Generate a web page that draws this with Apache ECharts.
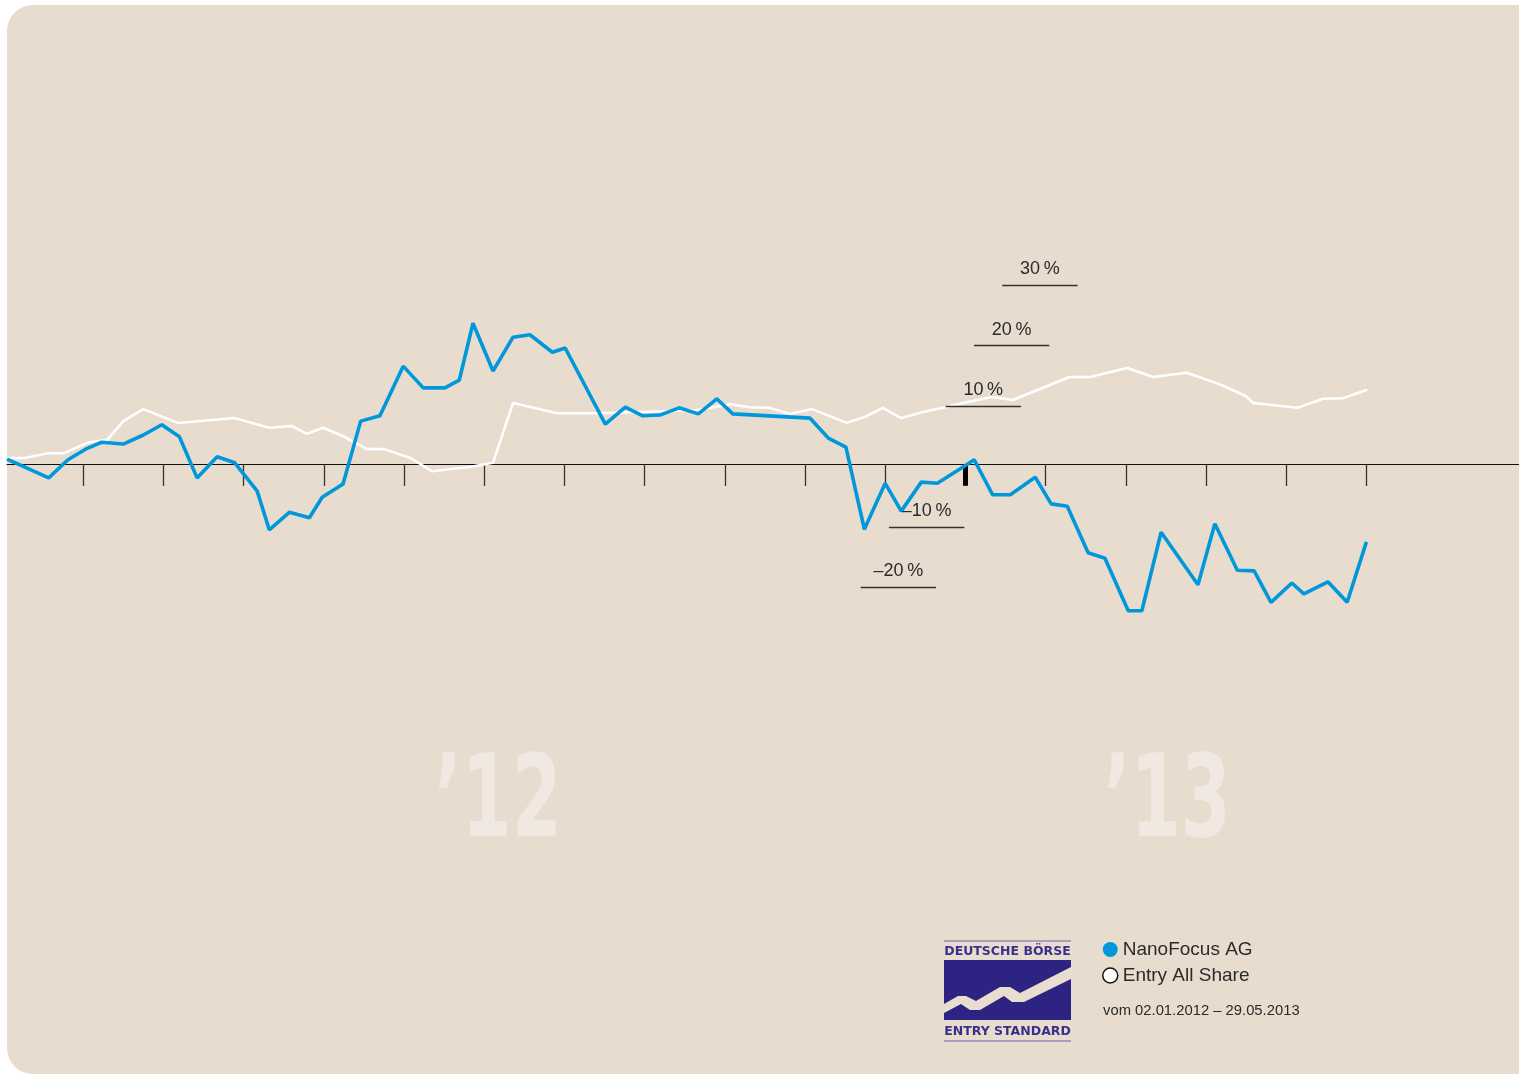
<!DOCTYPE html>
<html>
<head>
<meta charset="utf-8">
<script src="https://cdn.jsdelivr.net/npm/echarts@6/dist/echarts.min.js"></script>
<style>
  html, body { margin: 0; padding: 0; background: #ffffff; }
  #chart { width: 1519px; height: 1074px; }
</style>
</head>
<body>
<div id="chart"></div>
<script>
// Time position in months since 1 Jan 2012 (12 = 1 Jan 2013)
const nanoX = [0.05, 0.57, 0.81, 1.05, 1.23, 1.50, 1.75, 1.98, 2.20, 2.42, 2.67, 2.89, 3.17, 3.32, 3.57, 3.82, 3.98, 4.24, 4.46, 4.70, 4.99, 5.24, 5.51, 5.69, 5.86, 6.11, 6.36, 6.57, 6.85, 7.01, 7.51, 7.76, 7.97, 8.19, 8.43, 8.67, 8.90, 9.10, 10.06, 10.29, 10.51, 10.74, 11.00, 11.20, 11.45, 11.65, 11.97, 12.11, 12.34, 12.56, 12.87, 13.07, 13.27, 13.53, 13.74, 14.03, 14.20, 14.44, 14.90, 15.11, 15.39, 15.60, 15.81, 16.07, 16.22, 16.52, 16.76, 17.00];
// NanoFocus AG, performance in %
const nanoY = [0.8, -2.3, 0.7, 2.6, 3.6, 3.3, 4.8, 6.5, 4.5, -2.3, 1.2, 0.2, -4.5, -10.9, -8.0, -8.9, -5.5, -3.3, 7.1, 8.0, 16.2, 12.6, 12.6, 13.9, 23.3, 15.4, 21.0, 21.4, 18.5, 19.2, 6.6, 9.4, 8.0, 8.1, 9.3, 8.3, 10.8, 8.3, 7.6, 4.3, 2.8, -10.8, -3.2, -7.8, -3.0, -3.2, -0.5, 0.7, -5.1, -5.1, -2.2, -6.6, -7.0, -14.7, -15.6, -24.3, -24.3, -11.3, -20.0, -9.9, -17.6, -17.7, -22.9, -19.7, -21.5, -19.5, -22.9, -12.9];

const entryX = [0.05, 0.27, 0.57, 0.76, 1.05, 1.30, 1.50, 1.75, 2.18, 2.89, 3.32, 3.60, 3.79, 3.99, 4.26, 4.53, 4.74, 5.08, 5.35, 5.82, 6.11, 6.36, 6.91, 7.41, 8.65, 9.07, 9.31, 9.56, 9.81, 10.09, 10.52, 10.75, 10.97, 11.20, 11.47, 11.75, 11.97, 12.33, 12.59, 13.30, 13.55, 14.02, 14.34, 14.76, 15.15, 15.49, 15.59, 16.14, 16.46, 16.71, 17.01];
// Entry All Share, performance in %
const entryY = [1.0, 1.0, 1.8, 1.8, 3.5, 4.0, 7.1, 9.1, 6.8, 7.6, 6.0, 6.3, 5.0, 6.0, 4.5, 2.5, 2.5, 1.0, -1.2, -0.5, 0.2, 10.1, 8.4, 8.4, 8.9, 9.9, 9.4, 9.3, 8.3, 9.1, 6.8, 7.8, 9.3, 7.6, 8.6, 9.4, 10.1, 11.1, 10.6, 14.4, 14.4, 15.9, 14.4, 15.1, 13.3, 11.3, 10.1, 9.3, 10.8, 10.9, 12.3];

const monthTicks = [1, 2, 3, 4, 5, 6, 7, 8, 9, 10, 11, 12, 13, 14, 15, 16, 17];
const yearTick = 12;
const yTicks = [-20, -10, 0, 10, 20, 30];
const yTickLabels = ['–20\u2009%', '–10\u2009%', '0\u2009%', '10\u2009%', '20\u2009%', '30\u2009%'];
const seriesNames = ['NanoFocus AG', 'Entry All Share'];
const periodText = 'vom 02.01.2012 – 29.05.2013';
const yearLabels = ['\u201912', '\u201913'];

const BLUE = '#0098db';
const BG = '#e8dccf';
const TEXT = '#2b2b2b';

function pairs(xs, ys) { return xs.map((x, i) => [x, ys[i]]); }

// staggered value labels with underline (each one shifted right as value rises)
const labelLines = yTicks.map((v, i) => {
  const x0 = 11.40 + 0.0353 * v;
  const y = v - 0.4;
  return [
    {
      coord: [x0, y],
      lineStyle: { color: '#333', width: 1.3, type: 'solid', opacity: v === 0 ? 0 : 1 },
      label: {
        show: true, position: 'insideMiddleTop', distance: 7,
        formatter: yTickLabels[i],
        color: TEXT, fontSize: 18, fontFamily: 'Liberation Sans, Arial, sans-serif'
      }
    },
    { coord: [x0 + 0.94, y] }
  ];
});

const chart = echarts.init(document.getElementById('chart'), null, { renderer: 'canvas' });

const option = {
  animation: false,
  backgroundColor: 'transparent',
  grid: { left: 7, top: 464 - 70 * 6.04, width: 1511.8, height: 150 * 6.04, containLabel: false },
  xAxis: {
    type: 'value', min: 0.05, max: 18.9,
    axisLine: { show: true, onZero: true, lineStyle: { color: '#111', width: 1.2 } },
    axisTick: { show: true, customValues: monthTicks, length: 22, lineStyle: { color: '#333', width: 1.3 } },
    axisLabel: { show: false },
    splitLine: { show: false }
  },
  yAxis: {
    type: 'value', min: -80, max: 70,
    show: false, splitLine: { show: false }
  },
  legend: {
    left: 1097, top: 935, orient: 'vertical', icon: 'circle',
    itemWidth: 15, itemHeight: 15, itemGap: 7,
    selectedMode: false,
    textStyle: { color: TEXT, fontSize: 19, fontFamily: 'Liberation Sans, Arial, sans-serif' },
    data: [
      { name: seriesNames[0], itemStyle: { color: BLUE } },
      { name: seriesNames[1], itemStyle: { color: '#ffffff', borderColor: '#111', borderWidth: 1.5 } }
    ]
  },
  graphic: [
    { type: 'rect', z: -10, shape: { x: 7, y: 5, width: 1540, height: 1069, r: [26, 0, 0, 26] }, style: { fill: BG } },
    // big year labels
    { type: 'text', z: -5, x: 498, y: 806, scaleX: 0.63, style: { text: yearLabels[0], fill: '#f1e9e1', font: 'bold 114px "DejaVu Sans", sans-serif', align: 'center', verticalAlign: 'middle' } },
    { type: 'text', z: -5, x: 1167, y: 806, scaleX: 0.63, style: { text: yearLabels[1], fill: '#f1e9e1', font: 'bold 114px "DejaVu Sans", sans-serif', align: 'center', verticalAlign: 'middle' } },
    // period text
    { type: 'text', x: 1103, y: 1011, style: { text: periodText, fill: TEXT, font: '14.8px "Liberation Sans", Arial, sans-serif', verticalAlign: 'middle' } },
    // Deutsche Börse Entry Standard logo
    { type: 'line', shape: { x1: 944, y1: 941, x2: 1071, y2: 941 }, style: { stroke: '#6a60aa', lineWidth: 1 } },
    { type: 'text', x: 1007.5, y: 951.5, style: { text: 'DEUTSCHE BÖRSE', fill: '#3a2f8c', font: 'bold 12.5px "DejaVu Sans", sans-serif', align: 'center', verticalAlign: 'middle' } },
    { type: 'rect', shape: { x: 944, y: 960, width: 127, height: 60 }, style: { fill: '#2d2383' } },
    { type: 'polygon', shape: { points: [[944, 1004], [958, 996], [966, 996], [976, 1001], [1000, 987], [1010, 987], [1020, 993], [1071, 967], [1071, 979], [1024, 1002], [1012, 1002], [1004, 996], [980, 1010], [970, 1010], [961, 1004], [944, 1013]] }, style: { fill: '#e9ddd0' } },
    { type: 'text', x: 1007.5, y: 1031.5, style: { text: 'ENTRY STANDARD', fill: '#3a2f8c', font: 'bold 12.5px "DejaVu Sans", sans-serif', align: 'center', verticalAlign: 'middle' } },
    { type: 'line', shape: { x1: 944, y1: 1041, x2: 1071, y2: 1041 }, style: { stroke: '#6a60aa', lineWidth: 1 } }
  ],
  series: [
    {
      name: seriesNames[1], type: 'line', data: pairs(entryX, entryY),
      showSymbol: false, symbol: 'none', z: 3,
      lineStyle: { color: '#ffffff', width: 2.5 },
      itemStyle: { color: '#ffffff' },
      markLine: { silent: true, symbol: ['none', 'none'], animation: false, data: labelLines }
    },
    {
      name: seriesNames[0], type: 'line', data: pairs(nanoX, nanoY),
      showSymbol: false, symbol: 'none', z: 4,
      lineStyle: { color: BLUE, width: 3.6 },
      itemStyle: { color: BLUE },
      markLine: {
        silent: true, symbol: ['none', 'none'], animation: false, z: 1,
        label: { show: false },
        data: [[{ coord: [yearTick, 0], lineStyle: { color: '#000', width: 5, type: 'solid' } }, { coord: [yearTick, -3.6] }]]
      }
    }
  ]
};
chart.setOption(option);
</script>
</body>
</html>
